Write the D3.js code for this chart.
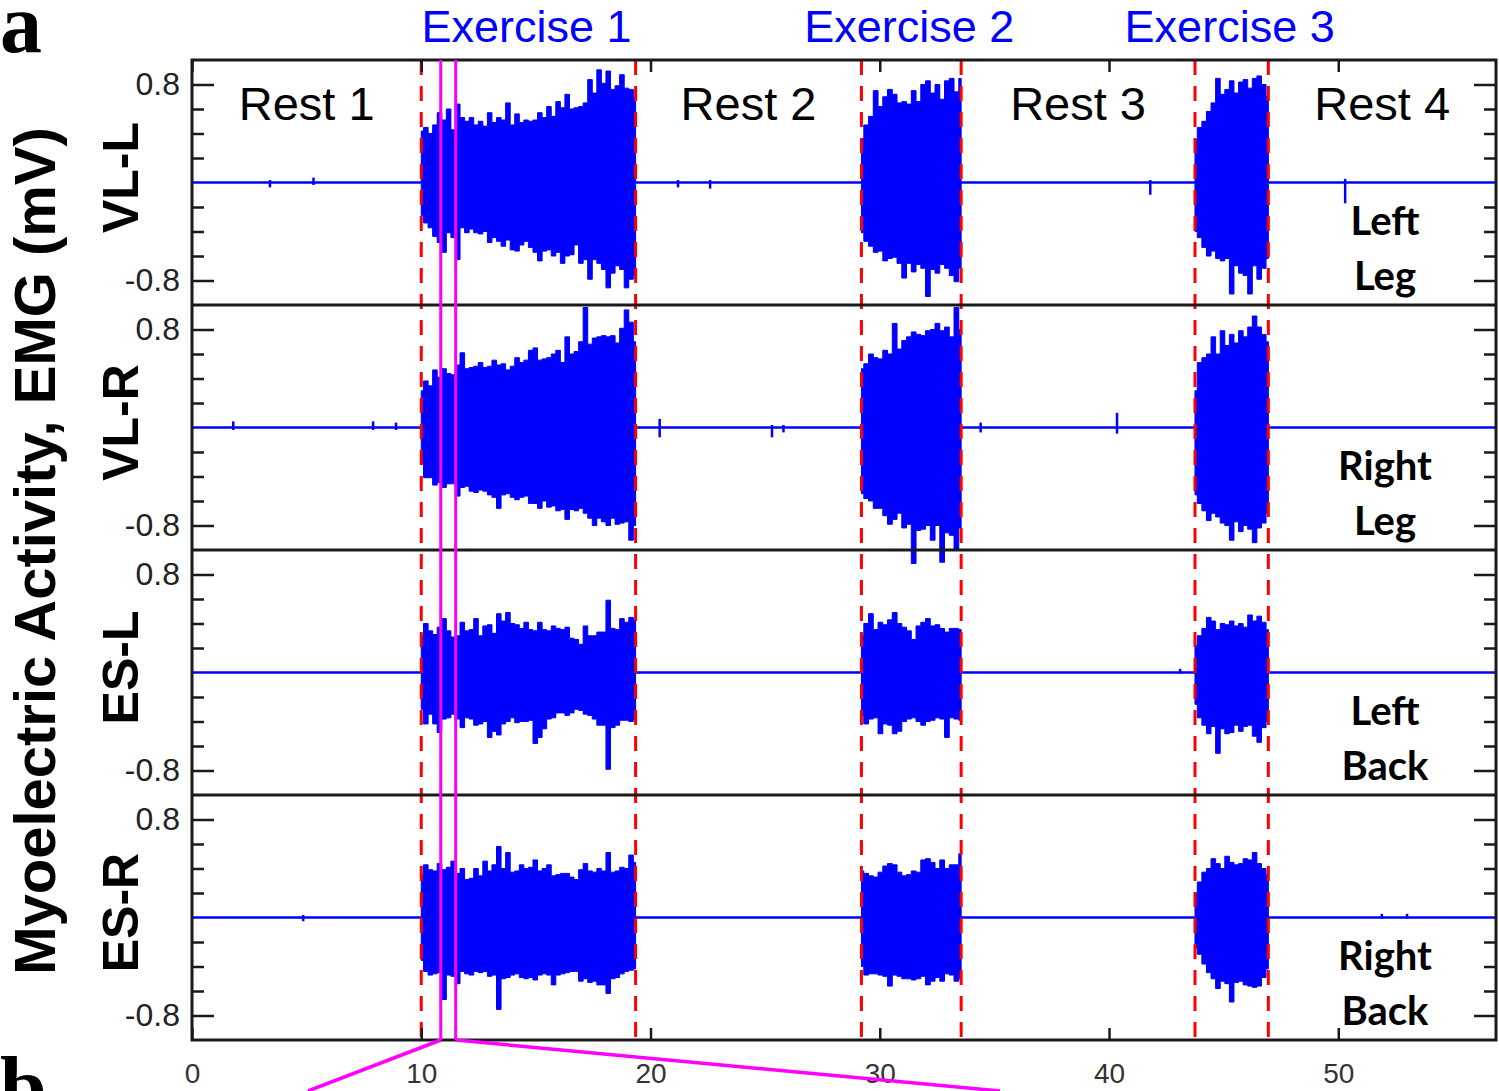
<!DOCTYPE html>
<html>
<head>
<meta charset="utf-8">
<script src="https://cdn.jsdelivr.net/npm/d3@7"></script>
<style>
  body { margin: 0; background: #fff; }
</style>
</head>
<body>
<div id="chart"></div>
<script>
// ---- data ----
var panelNames = ["VL-L", "VL-R", "ES-L", "ES-R"];
var sideLabels = [["Left", "Leg"], ["Right", "Leg"], ["Left", "Back"], ["Right", "Back"]];
var exerciseNames = ["Exercise 1", "Exercise 2", "Exercise 3"];
var restNames = ["Rest 1", "Rest 2", "Rest 3", "Rest 4"];
var exerciseStart = [10.0, 29.2, 43.75];   // s
var exerciseEnd = [19.35, 33.55, 46.95];   // s
var timeMax = 56.88;
var zoomWindow = [10.85, 11.5];            // s, magenta window
var xTicks = [0, 10, 20, 30, 40, 50];
var yMinorTicks = [-0.6, -0.4, -0.2, 0.2, 0.4, 0.6];
var yMajorTicks = [-0.8, 0.8];

// burst envelopes (mV), samples spread evenly over each exercise
var vlL_ex1_hi = [0.42,0.45,0.40,0.47,0.57,0.51,0.60,0.43,0.64,0.53,0.50,0.53,0.47,0.50,0.46,0.57,0.49,0.53,0.51,0.65,0.47,0.56,0.49,0.51,0.50,0.51,0.57,0.53,0.62,0.54,0.66,0.61,0.72,0.60,0.61,0.62,0.65,0.84,0.73,0.92,0.81,0.91,0.76,0.79,0.88,0.77,0.76,0.70];
var vlL_ex1_lo = [-0.27,-0.33,-0.37,-0.44,-0.49,-0.57,-0.41,-0.45,-0.63,-0.37,-0.41,-0.38,-0.41,-0.42,-0.40,-0.49,-0.45,-0.48,-0.52,-0.47,-0.55,-0.56,-0.51,-0.48,-0.53,-0.57,-0.64,-0.56,-0.55,-0.60,-0.57,-0.66,-0.60,-0.59,-0.51,-0.66,-0.63,-0.79,-0.63,-0.66,-0.71,-0.86,-0.74,-0.68,-0.71,-0.86,-0.79,-0.76];
var vlL_ex2_hi = [0.36,0.47,0.54,0.75,0.62,0.70,0.76,0.72,0.65,0.66,0.64,0.75,0.66,0.80,0.83,0.73,0.80,0.68,0.83,0.85,0.74,0.85];
var vlL_ex2_lo = [-0.41,-0.48,-0.52,-0.57,-0.56,-0.64,-0.62,-0.61,-0.66,-0.78,-0.66,-0.73,-0.67,-0.70,-0.93,-0.71,-0.74,-0.67,-0.70,-0.76,-0.81,-0.70];
var vlL_ex3_hi = [0.35,0.45,0.50,0.58,0.65,0.85,0.72,0.76,0.83,0.73,0.82,0.84,0.77,0.85,0.87,0.80,0.70];
var vlL_ex3_lo = [-0.40,-0.45,-0.53,-0.60,-0.56,-0.62,-0.64,-0.62,-0.91,-0.68,-0.74,-0.76,-0.91,-0.68,-0.79,-0.70,-0.62];

var vlR_ex1_hi = [0.30,0.38,0.34,0.47,0.41,0.48,0.44,0.43,0.51,0.61,0.48,0.49,0.50,0.53,0.49,0.50,0.55,0.51,0.52,0.47,0.50,0.57,0.53,0.55,0.63,0.65,0.55,0.56,0.57,0.60,0.63,0.53,0.74,0.60,0.62,0.70,0.98,0.68,0.73,0.74,0.75,0.74,0.75,0.69,0.81,0.96,0.86,0.70];
var vlR_ex1_lo = [-0.30,-0.41,-0.41,-0.47,-0.45,-0.49,-0.46,-0.46,-0.56,-0.49,-0.48,-0.52,-0.53,-0.51,-0.52,-0.55,-0.57,-0.66,-0.55,-0.54,-0.57,-0.59,-0.57,-0.56,-0.62,-0.62,-0.66,-0.60,-0.65,-0.64,-0.68,-0.67,-0.75,-0.67,-0.68,-0.66,-0.70,-0.74,-0.80,-0.74,-0.77,-0.80,-0.74,-0.79,-0.78,-0.77,-0.92,-0.80];
var vlR_ex2_hi = [0.48,0.52,0.60,0.57,0.56,0.63,0.60,0.85,0.64,0.71,0.74,0.78,0.76,0.75,0.79,0.80,0.85,0.79,0.82,0.74,0.98,0.80];
var vlR_ex2_lo = [-0.54,-0.58,-0.60,-0.66,-0.66,-0.72,-0.79,-0.75,-0.70,-0.82,-0.79,-1.11,-0.84,-0.83,-0.80,-0.92,-0.80,-1.10,-0.86,-0.88,-1.00,-0.82];
var vlR_ex3_hi = [0.30,0.53,0.57,0.60,0.74,0.60,0.79,0.67,0.76,0.69,0.79,0.74,0.82,0.91,0.82,0.76,0.70];
var vlR_ex3_lo = [-0.55,-0.62,-0.68,-0.76,-0.70,-0.73,-0.78,-0.80,-0.92,-0.77,-0.85,-0.80,-0.83,-0.94,-0.82,-0.78,-0.70];

var esL_ex1_hi = [0.30,0.40,0.34,0.31,0.37,0.44,0.34,0.29,0.30,0.41,0.34,0.35,0.44,0.30,0.38,0.39,0.32,0.48,0.42,0.49,0.40,0.39,0.36,0.41,0.35,0.34,0.41,0.35,0.34,0.38,0.36,0.35,0.37,0.28,0.27,0.23,0.38,0.30,0.30,0.33,0.33,0.59,0.36,0.35,0.44,0.41,0.45,0.43];
var esL_ex1_lo = [-0.30,-0.42,-0.34,-0.42,-0.49,-0.38,-0.37,-0.34,-0.38,-0.45,-0.37,-0.38,-0.43,-0.42,-0.40,-0.53,-0.48,-0.51,-0.42,-0.40,-0.37,-0.41,-0.40,-0.40,-0.39,-0.58,-0.53,-0.46,-0.38,-0.37,-0.33,-0.33,-0.35,-0.33,-0.30,-0.31,-0.34,-0.35,-0.38,-0.43,-0.43,-0.79,-0.45,-0.43,-0.39,-0.39,-0.40,-0.38];
var esL_ex2_hi = [0.30,0.40,0.48,0.35,0.41,0.39,0.43,0.49,0.40,0.37,0.34,0.27,0.38,0.41,0.44,0.38,0.39,0.36,0.33,0.36,0.36,0.35];
var esL_ex2_lo = [-0.35,-0.42,-0.38,-0.37,-0.50,-0.42,-0.43,-0.50,-0.48,-0.40,-0.38,-0.37,-0.40,-0.43,-0.40,-0.39,-0.37,-0.38,-0.53,-0.37,-0.38,-0.39];
var esL_ex3_hi = [0.22,0.30,0.36,0.45,0.42,0.35,0.40,0.39,0.42,0.38,0.40,0.37,0.47,0.42,0.46,0.41,0.35];
var esL_ex3_lo = [-0.26,-0.37,-0.43,-0.50,-0.44,-0.66,-0.46,-0.50,-0.49,-0.43,-0.48,-0.44,-0.43,-0.52,-0.57,-0.45,-0.40];

var esR_ex1_hi = [0.35,0.43,0.39,0.38,0.44,0.39,0.41,0.46,0.36,0.40,0.31,0.32,0.40,0.34,0.46,0.38,0.43,0.58,0.40,0.53,0.37,0.38,0.43,0.40,0.41,0.47,0.38,0.40,0.43,0.34,0.35,0.36,0.36,0.33,0.31,0.39,0.44,0.38,0.37,0.40,0.38,0.53,0.37,0.38,0.41,0.40,0.51,0.45];
var esR_ex1_lo = [-0.35,-0.44,-0.47,-0.46,-0.45,-0.67,-0.47,-0.48,-0.54,-0.44,-0.46,-0.47,-0.44,-0.45,-0.44,-0.48,-0.47,-0.75,-0.50,-0.49,-0.47,-0.46,-0.49,-0.50,-0.49,-0.51,-0.47,-0.46,-0.47,-0.55,-0.47,-0.46,-0.45,-0.44,-0.44,-0.52,-0.50,-0.53,-0.52,-0.55,-0.55,-0.62,-0.50,-0.49,-0.46,-0.44,-0.43,-0.42];
var esR_ex2_hi = [0.38,0.36,0.34,0.33,0.37,0.42,0.44,0.43,0.37,0.34,0.35,0.38,0.37,0.47,0.48,0.45,0.40,0.47,0.40,0.43,0.43,0.52];
var esR_ex2_lo = [-0.40,-0.47,-0.46,-0.46,-0.47,-0.48,-0.56,-0.47,-0.48,-0.50,-0.50,-0.51,-0.50,-0.48,-0.55,-0.52,-0.49,-0.52,-0.46,-0.47,-0.52,-0.50];
var esR_ex3_hi = [0.20,0.29,0.37,0.40,0.48,0.44,0.40,0.50,0.45,0.43,0.44,0.48,0.47,0.53,0.44,0.40,0.35];
var esR_ex3_lo = [-0.25,-0.30,-0.38,-0.45,-0.50,-0.58,-0.52,-0.54,-0.69,-0.53,-0.52,-0.55,-0.56,-0.57,-0.56,-0.49,-0.42];

// small artefacts during rest: [time, min, max]
var vlL_blips = [[3.4,-0.04,0.02],[5.3,-0.02,0.04],[21.2,-0.04,0.02],[22.6,-0.05,0.02],[41.8,-0.10,0.02],[50.3,-0.17,0.03]];
var vlR_blips = [[1.8,-0.02,0.05],[7.9,-0.02,0.05],[8.9,-0.02,0.04],[20.4,-0.08,0.07],[25.3,-0.08,0.02],[25.8,-0.04,0.02],[34.4,-0.04,0.04],[40.35,-0.05,0.12]];
var esL_blips = [[43.1,-0.01,0.03]];
var esR_blips = [[4.85,-0.03,0.02],[51.9,-0.01,0.03],[53.0,-0.01,0.03]];

var panels = [
  {hi: [vlL_ex1_hi, vlL_ex2_hi, vlL_ex3_hi], lo: [vlL_ex1_lo, vlL_ex2_lo, vlL_ex3_lo], blips: vlL_blips},
  {hi: [vlR_ex1_hi, vlR_ex2_hi, vlR_ex3_hi], lo: [vlR_ex1_lo, vlR_ex2_lo, vlR_ex3_lo], blips: vlR_blips},
  {hi: [esL_ex1_hi, esL_ex2_hi, esL_ex3_hi], lo: [esL_ex1_lo, esL_ex2_lo, esL_ex3_lo], blips: esL_blips},
  {hi: [esR_ex1_hi, esR_ex2_hi, esR_ex3_hi], lo: [esR_ex1_lo, esR_ex2_lo, esR_ex3_lo], blips: esR_blips}
];

// ---- layout ----
var W = 1499, H = 1091;
var plotLeft = 192, plotRight = 1496, plotTop = 60, panelH = 245;
var plotBottom = plotTop + 4 * panelH;
var bConnect = [308, 1000];   // where the zoom connectors leave the picture
var SIG = "#0000ff", INK = "#1a1a1a", LBL = "#222";
var fmt = function(d) { return d.toFixed(1); };   // plain hyphen minus, as in the figure

var svg = d3.select("#chart")
  .append("svg")
    .attr("width", W)
    .attr("height", H)
    .style("display", "block");

var x = d3.scaleLinear().domain([0, timeMax]).range([plotLeft, plotRight]);

panels.forEach(function(p, i) {
  var top = plotTop + i * panelH;
  var y = d3.scaleLinear().domain([-1, 1]).range([top + panelH, top]);
  var g = svg.append("g");

  // baseline during rest
  g.append("line")
      .attr("x1", x(0)).attr("x2", x(timeMax))
      .attr("y1", y(0)).attr("y2", y(0))
      .attr("stroke", SIG).attr("stroke-width", 2.5);

  p.blips.forEach(function(b) {
    g.append("line")
        .attr("x1", x(b[0])).attr("x2", x(b[0]))
        .attr("y1", y(b[1])).attr("y2", y(b[2]))
        .attr("stroke", SIG).attr("stroke-width", 2.5);
  });

  // bursts
  var area = d3.area()
      .curve(d3.curveStep)
      .x(function(d) { return x(d.t); })
      .y0(function(d) { return y(d.lo); })
      .y1(function(d) { return y(d.hi); });

  p.hi.forEach(function(hi, k) {
    var lo = p.lo[k], n = hi.length;
    var step = (exerciseEnd[k] - exerciseStart[k]) / (n - 1);
    var pts = hi.map(function(h, j) {
      return {t: exerciseStart[k] + j * step, hi: h, lo: lo[j]};
    });
    g.append("path")
        .datum(pts)
        .attr("d", area)
        .attr("fill", SIG)
        .attr("stroke", SIG)
        .attr("stroke-width", 1);
  });

  // y axes, left and right, ticks inward
  function yAxis(gen, ticks, size, labels) {
    var a = svg.append("g")
        .attr("transform", "translate(" + (gen === d3.axisLeft ? plotLeft : plotRight) + ",0)")
        .call(gen(y).tickValues(ticks).tickSize(-size).tickPadding(12)
              .tickFormat(labels ? fmt : ""));
    a.select(".domain").remove();
    a.selectAll("line").attr("stroke", INK).attr("stroke-width", 2.5);
    a.selectAll("text")
        .attr("font-family", "'Liberation Sans', Arial, sans-serif")
        .attr("font-size", "32px")
        .attr("fill", LBL);
  }
  yAxis(d3.axisLeft, yMinorTicks, 12, false);
  yAxis(d3.axisLeft, yMajorTicks, 22, true);
  yAxis(d3.axisRight, yMinorTicks, 12, false);
  yAxis(d3.axisRight, yMajorTicks, 22, false);

  // muscle label
  svg.append("text")
      .attr("transform", "translate(138," + (y(0) - 5) + ") rotate(-90)")
      .attr("text-anchor", "middle")
      .attr("font-family", "'Liberation Sans', Arial, sans-serif")
      .attr("font-weight", "bold")
      .attr("font-size", "50px")
      .attr("fill", "#000")
      .text(panelNames[i]);

  // side label
  sideLabels[i].forEach(function(s, k) {
    svg.append("text")
        .attr("x", 1385)
        .attr("y", y(0) + 52 + k * 55)
        .attr("text-anchor", "middle")
        .attr("font-family", "Lato, 'Open Sans', sans-serif")
        .attr("font-weight", "bold")
        .attr("font-size", "40px")
        .attr("fill", "#000")
        .text(s);
  });
});

// exercise borders
var borders = exerciseStart.concat(exerciseEnd);
svg.append("g").selectAll("line")
    .data(borders)
    .enter()
    .append("line")
      .attr("x1", function(d) { return x(d); })
      .attr("x2", function(d) { return x(d); })
      .attr("y1", plotTop).attr("y2", plotBottom)
      .attr("stroke", "#ff0000")
      .attr("stroke-width", 3)
      .attr("stroke-dasharray", "15,11");

// frame and panel separators
svg.append("rect")
    .attr("x", plotLeft).attr("y", plotTop)
    .attr("width", plotRight - plotLeft).attr("height", plotBottom - plotTop)
    .attr("fill", "none").attr("stroke", INK).attr("stroke-width", 3);
[1, 2, 3].forEach(function(i) {
  svg.append("line")
      .attr("x1", plotLeft).attr("x2", plotRight)
      .attr("y1", plotTop + i * panelH).attr("y2", plotTop + i * panelH)
      .attr("stroke", INK).attr("stroke-width", 3);
});

// x axes, top and bottom
var xb = svg.append("g")
    .attr("transform", "translate(0," + plotBottom + ")")
    .call(d3.axisBottom(x).tickValues(xTicks).tickSize(-12).tickPadding(23).tickFormat(d3.format("d")));
xb.select(".domain").remove();
xb.selectAll("line").attr("stroke", INK).attr("stroke-width", 2.5);
xb.selectAll("text")
    .attr("font-family", "'Liberation Sans', Arial, sans-serif")
    .attr("font-size", "28px")
    .attr("fill", "#333");

var xt = svg.append("g")
    .attr("transform", "translate(0," + plotTop + ")")
    .call(d3.axisTop(x).tickValues(xTicks).tickSize(-12).tickFormat(""));
xt.select(".domain").remove();
xt.selectAll("line").attr("stroke", INK).attr("stroke-width", 2.5);

// magenta zoom window
svg.append("g").selectAll("line")
    .data(zoomWindow)
    .enter()
    .append("line")
      .attr("x1", function(d) { return x(d); })
      .attr("x2", function(d) { return x(d); })
      .attr("y1", plotTop).attr("y2", plotBottom)
      .attr("stroke", "#ff00ff").attr("stroke-width", 3);
zoomWindow.forEach(function(d, k) {
  svg.append("line")
      .attr("x1", x(d)).attr("y1", plotBottom)
      .attr("x2", bConnect[k]).attr("y2", H)
      .attr("stroke", "#ff00ff").attr("stroke-width", 3.5);
});

// phase labels
exerciseNames.forEach(function(s, k) {
  svg.append("text")
      .attr("x", x((exerciseStart[k] + exerciseEnd[k]) / 2) - 2)
      .attr("y", 42)
      .attr("text-anchor", "middle")
      .attr("font-family", "'Liberation Sans', Arial, sans-serif")
      .attr("font-size", "45px")
      .attr("fill", "#0000ff")
      .text(s);
});
var restStart = [0].concat(exerciseEnd);
var restEnd = exerciseStart.concat([timeMax]);
restNames.forEach(function(s, k) {
  svg.append("text")
      .attr("x", x((restStart[k] + restEnd[k]) / 2))
      .attr("y", 120)
      .attr("text-anchor", "middle")
      .attr("font-family", "'Liberation Sans', Arial, sans-serif")
      .attr("font-size", "47px")
      .attr("fill", "#000")
      .text(s);
});

// overall y label
svg.append("text")
    .attr("transform", "translate(55," + ((plotTop + plotBottom) / 2 + 1) + ") rotate(-90)")
    .attr("text-anchor", "middle")
    .attr("font-family", "'Liberation Sans', Arial, sans-serif")
    .attr("font-weight", "bold")
    .attr("font-size", "58px")
    .attr("fill", "#000")
    .text("Myoelectric Activity, EMG (mV)");

// panel letters
svg.append("text")
    .attr("x", 0).attr("y", 52)
    .attr("font-family", "'Liberation Serif', 'Times New Roman', serif")
    .attr("font-weight", "bold")
    .attr("font-size", "84px")
    .text("a");
svg.append("text")
    .attr("x", 0).attr("y", 1115)
    .attr("font-family", "'Liberation Serif', 'Times New Roman', serif")
    .attr("font-weight", "bold")
    .attr("font-size", "84px")
    .text("b");
</script>
</body>
</html>
